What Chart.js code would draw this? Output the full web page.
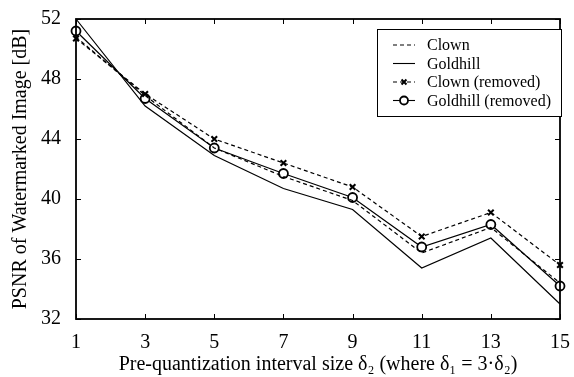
<!DOCTYPE html>
<html>
<head>
<meta charset="utf-8">
<script src="https://cdn.jsdelivr.net/npm/chart.js@4/dist/chart.umd.min.js"></script>
<style>
  html, body { margin: 0; padding: 0; background: #fff; }
  canvas { display: block; }
</style>
</head>
<body>
<canvas id="psnr" width="574" height="377"></canvas>
<script>
// ── Data ───────────────────────────────────────────────────────────────────
const deltas        = [1, 3, 5, 7, 9, 11, 13, 15];
const clown         = [50.8, 46.9, 43.4, 41.5, 39.9, 36.4, 38.1, 34.4];
const goldhill      = [52.0, 46.2, 42.9, 40.7, 39.3, 35.4, 37.4, 33.0];
const clownRemoved  = [50.7, 47.0, 44.0, 42.4, 40.8, 37.5, 39.1, 35.6];
const goldRemoved   = [51.2, 46.7, 43.4, 41.7, 40.1, 36.8, 38.3, 34.2];
const seriesNames   = ["Clown", "Goldhill", "Clown (removed)", "Goldhill (removed)"];
const xTickValues   = [1, 3, 5, 7, 9, 11, 13, 15];
const yTickValues   = [32, 36, 40, 44, 48, 52];

const FONT = "'Liberation Serif', 'Times New Roman', serif";
const DASH = [4, 3];

function pts(ys) {
  return deltas.map((d, i) => ({ x: d, y: ys[i] }));
}

// ── Frame with inward ticks on all four sides ──────────────────────────────
const frameTicks = {
  id: "frameTicks",
  afterDatasetsDraw(chart) {
    const { ctx, chartArea: a, scales: { x, y } } = chart;
    ctx.save();
    ctx.strokeStyle = "#000";
    ctx.lineWidth = 1;
    ctx.beginPath();
    xTickValues.forEach(v => {
      const px = Math.round(x.getPixelForValue(v)) + 0.5;
      ctx.moveTo(px, a.bottom); ctx.lineTo(px, a.bottom - 5);
      ctx.moveTo(px, a.top);    ctx.lineTo(px, a.top + 5);
    });
    yTickValues.forEach(v => {
      const py = Math.round(y.getPixelForValue(v)) + 0.5;
      ctx.moveTo(a.left, py);  ctx.lineTo(a.left + 5, py);
      ctx.moveTo(a.right, py); ctx.lineTo(a.right - 5, py);
    });
    ctx.stroke();
    ctx.lineWidth = 1.8;
    ctx.strokeRect(a.left, a.top, a.right - a.left, a.bottom - a.top);
    ctx.restore();
  },
};

// ── Boxed legend, line samples with markers ────────────────────────────────
const boxLegend = {
  id: "boxLegend",
  afterDraw(chart) {
    const { ctx } = chart;
    const bx = 377, by = 29, bw = 184, bh = 87;
    ctx.save();
    ctx.fillStyle = "#fff";
    ctx.fillRect(bx, by, bw, bh);
    ctx.strokeStyle = "#000";
    ctx.lineWidth = 1;
    ctx.strokeRect(bx + 0.5, by + 0.5, bw, bh);
    ctx.font = "16px " + FONT;
    ctx.textBaseline = "middle";
    chart.data.datasets.forEach((ds, i) => {
      const cy = by + 16 + i * 18.5;
      ctx.strokeStyle = "#000";
      ctx.lineWidth = 1.1;
      ctx.setLineDash(ds.borderDash || []);
      ctx.beginPath();
      ctx.moveTo(bx + 16, cy); ctx.lineTo(bx + 38, cy);
      ctx.stroke();
      ctx.setLineDash([]);
      if (ds.pointRadius > 0) {
        ctx.fillStyle = ds.pointBackgroundColor;
        ctx.strokeStyle = ds.pointBorderColor;
        ctx.lineWidth = ds.pointBorderWidth;
        Chart.helpers.drawPoint(ctx, {
          pointStyle: ds.pointStyle, radius: ds.pointRadius - 0.5,
          borderWidth: ds.pointBorderWidth, rotation: 0,
        }, bx + 27, cy);
      }
      ctx.fillStyle = "#000";
      ctx.fillText(ds.label, bx + 50, cy + 1);
    });
    ctx.restore();
  },
};

const lineBase = {
  borderColor: "#000",
  borderWidth: 1.2,
  fill: false,
  tension: 0,
  clip: false,
  pointRadius: 0,
};

new Chart(document.getElementById("psnr"), {
  type: "line",
  data: {
    datasets: [
      { ...lineBase, label: seriesNames[0], data: pts(clown), borderDash: DASH },
      { ...lineBase, label: seriesNames[1], data: pts(goldhill) },
      { ...lineBase, label: seriesNames[2], data: pts(clownRemoved), borderDash: DASH,
        pointStyle: "crossRot", pointRadius: 4, pointBorderWidth: 2,
        pointBorderColor: "#000", pointBackgroundColor: "#000" },
      { ...lineBase, label: seriesNames[3], data: pts(goldRemoved),
        pointStyle: "circle", pointRadius: 4.5, pointBorderWidth: 1.8,
        pointBorderColor: "#000", pointBackgroundColor: "#fff" },
    ],
  },
  options: {
    responsive: false,
    animation: false,
    devicePixelRatio: 1,
    layout: { padding: { top: 15, right: 8, left: 0, bottom: 0 } },
    plugins: { legend: { display: false }, tooltip: { enabled: false } },
    scales: {
      x: {
        type: "linear",
        min: 1, max: 15,
        afterBuildTicks: s => { s.ticks = xTickValues.map(v => ({ value: v })); },
        afterFit: s => { s.height = 58; },
        grid: { display: false },
        border: { display: false },
        ticks: { color: "#000", font: { family: FONT, size: 20 }, padding: 4 },
        title: {
          display: true,
          text: "Pre-quantization interval size δ₂ (where δ₁ = 3·δ₂)",
          color: "#000",
          font: { family: FONT, size: 20 },
          padding: { top: 0, bottom: 0 },
        },
      },
      y: {
        min: 32, max: 52,
        afterBuildTicks: s => { s.ticks = yTickValues.map(v => ({ value: v })); },
        afterFit: s => { s.width = 76; },
        grid: { display: false },
        border: { display: false },
        ticks: { color: "#000", font: { family: FONT, size: 20 }, padding: 7 },
        title: {
          display: true,
          text: "PSNR of Watermarked Image [dB]",
          color: "#000",
          font: { family: FONT, size: 20 },
          padding: { top: 9, bottom: 0 },
        },
      },
    },
  },
  plugins: [frameTicks, boxLegend],
});
</script>
</body>
</html>
